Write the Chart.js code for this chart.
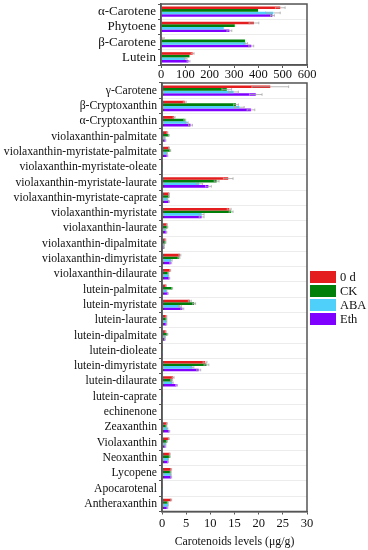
<!DOCTYPE html>
<html lang="en">
<head>
<meta charset="UTF-8">
<title>Carotenoids levels</title>
<script src="https://cdn.jsdelivr.net/npm/chart.js"></script>
<style>
  body { margin: 0; background: #fff; font-family: "Liberation Serif", "Times New Roman", serif; }
  #wrap { position: relative; width: 368px; height: 550px; overflow: hidden; }
  #topChart { position: absolute; left: 0; top: 0; }
  #mainChart { position: absolute; left: 0; top: 78px; }
  #legend { position: absolute; left: 310px; top: 270px; }
  .item { height: 14px; display: flex; align-items: center; font-size: 12.5px; color: #111; }
  .sw { width: 26px; height: 12px; margin-right: 4px; }
</style>
</head>
<body>
<div id="wrap">
  <canvas id="topChart" width="368" height="82"></canvas>
  <canvas id="mainChart" width="368" height="472"></canvas>
  <div id="legend"></div>
</div>
<script>
// series names and colours
const seriesNames = ['0 d', 'CK', 'ABA', 'Eth'];
const seriesColors = ['#e41e1e', '#00800a', '#4fd0fb', '#8000ff'];

// upper panel (large values)
const topLabels = ['α-Carotene', 'Phytoene', 'β-Carotene', 'Lutein'];
const top0d  = [490, 382, 5, 130];
const topCK  = [399, 303, 345, 117];
const topABA = [460, 258, 348, 101];
const topEth = [458, 281, 371, 113];
const topErr0d  = [20, 20, 8, 6];
const topErrCK  = [0, 0, 0, 0];
const topErrABA = [30, 0, 8, 6];
const topErrEth = [8, 10, 10, 6];

// lower panel
const labels = [
  'γ-Carotene', 'β-Cryptoxanthin', 'α-Cryptoxanthin', 'violaxanthin-palmitate',
  'violaxanthin-myristate-palmitate', 'violaxanthin-myristate-oleate',
  'violaxanthin-myristate-laurate', 'violaxanthin-myristate-caprate',
  'violaxanthin-myristate', 'violaxanthin-laurate', 'violaxanthin-dipalmitate',
  'violaxanthin-dimyristate', 'violaxanthin-dilaurate', 'lutein-palmitate',
  'lutein-myristate', 'lutein-laurate', 'lutein-dipalmitate', 'lutein-dioleate',
  'lutein-dimyristate', 'lutein-dilaurate', 'lutein-caprate', 'echinenone',
  'Zeaxanthin', 'Violaxanthin', 'Neoxanthin', 'Lycopene', 'Apocarotenal', 'Antheraxanthin'
];
const val0d  = [22.4, 4.7, 2.5, 1.1, 1.45, 0.05, 13.7, 1.45, 13.9, 1.0, 0.7, 3.7, 1.7, 0.8, 5.75, 0.9, 0.75, 0.05, 8.9, 2.3, 0.05, 0.1, 1.0, 1.4, 1.6, 1.9, 0.15, 1.9];
const valCK  = [13.4, 15.3, 4.7, 1.4, 1.7, 0.05, 11.3, 1.45, 14.3, 1.1, 0.7, 3.5, 1.3, 2.1, 6.65, 0.9, 1.1, 0.05, 9.2, 2.0, 0.05, 0.1, 0.9, 1.0, 1.6, 1.8, 0.15, 1.2];
const valABA = [14.8, 16.0, 5.1, 0.55, 1.0, 0.05, 7.7, 1.1, 8.2, 0.7, 0.4, 1.9, 1.3, 0.9, 3.7, 0.9, 0.6, 0.05, 6.3, 2.1, 0.05, 0.1, 1.1, 0.7, 1.25, 1.8, 0.15, 1.2];
const valEth = [19.4, 18.4, 5.9, 0.7, 1.1, 0.05, 9.6, 1.45, 8.2, 0.9, 0.4, 1.8, 1.5, 1.2, 4.2, 0.9, 0.6, 0.05, 7.6, 3.0, 0.05, 0.1, 1.5, 0.7, 1.25, 1.9, 0.15, 1.1];
const err0d  = [3.8, 0.3, 0.2, 0.1, 0.1, 0, 1.0, 0.1, 0.4, 0.1, 0.1, 0.2, 0.1, 0.1, 0.3, 0.1, 0.1, 0, 0.4, 0.2, 0, 0, 0.1, 0.1, 0.1, 0.1, 0, 0.1];
const errCK  = [1.0, 0.5, 0.2, 0.1, 0.1, 0, 0.5, 0.1, 0.4, 0.1, 0.1, 0.2, 0.1, 0.1, 0.3, 0.1, 0.1, 0, 0.5, 0.2, 0, 0, 0.1, 0.1, 0.1, 0.1, 0, 0.1];
const errABA = [1.0, 1.0, 0.3, 0.1, 0.1, 0, 0.7, 0.1, 0.5, 0.1, 0.1, 0.2, 0.1, 0.1, 0.3, 0.1, 0.1, 0, 0.3, 0.2, 0, 0, 0.1, 0.1, 0.1, 0.1, 0, 0.1];
const errEth = [1.3, 0.8, 0.4, 0.1, 0.1, 0, 0.6, 0.1, 0.5, 0.1, 0.1, 0.2, 0.1, 0.1, 0.3, 0.1, 0.1, 0, 0.4, 0.2, 0, 0, 0.1, 0.1, 0.1, 0.1, 0, 0.1];

const topTicks = [0, 100, 200, 300, 400, 500, 600];
const mainTicks = [0, 5, 10, 15, 20, 25, 30];

Chart.defaults.font.family = '"Liberation Serif", "Times New Roman", serif';
Chart.defaults.color = '#111';

// grey error bars with caps
const errorBars = {
  id: 'errorBars',
  afterDatasetsDraw(chart) {
    const ctx = chart.ctx, xs = chart.scales.x;
    ctx.save();
    ctx.strokeStyle = '#a8a8a8';
    ctx.lineWidth = 0.8;
    chart.data.datasets.forEach((ds, i) => {
      const meta = chart.getDatasetMeta(i);
      meta.data.forEach((bar, j) => {
        const e = ds.errors[j];
        if (!e) return;
        const v = ds.data[j];
        const x1 = xs.getPixelForValue(v - e), x2 = xs.getPixelForValue(v + e);
        const h = bar.height / 2;
        ctx.beginPath();
        ctx.moveTo(x1, bar.y); ctx.lineTo(x2, bar.y);
        ctx.moveTo(x1, bar.y - h); ctx.lineTo(x1, bar.y + h);
        ctx.moveTo(x2, bar.y - h); ctx.lineTo(x2, bar.y + h);
        ctx.stroke();
      });
    });
    ctx.restore();
  }
};

// box around the plot area
const frame = {
  id: 'frame',
  afterDraw(chart) {
    const a = chart.chartArea, ctx = chart.ctx;
    ctx.save();
    ctx.strokeStyle = '#555';
    ctx.lineWidth = 1.5;
    ctx.strokeRect(a.left, a.top, a.right - a.left, a.bottom - a.top);
    ctx.restore();
  }
};

function makeSets(arrs, errs) {
  return arrs.map((d, i) => ({
    label: seriesNames[i],
    data: d,
    errors: errs[i],
    backgroundColor: seriesColors[i],
    borderWidth: 0,
    barPercentage: 1,
    categoryPercentage: 0.68
  }));
}

function makeOptions(tickVals, max, yFont, yWidth, xHeight, xTitle, padTop, xPad) {
  return {
    indexAxis: 'y',
    responsive: false,
    animation: false,
    layout: { padding: { top: padTop, right: 61, left: 0, bottom: 0 } },
    plugins: { legend: { display: false }, tooltip: { enabled: false } },
    scales: {
      x: {
        min: 0, max: max,
        afterBuildTicks: s => { s.ticks = tickVals.map(v => ({ value: v })); },
        afterFit: s => { s.height = xHeight; s.paddingLeft = 0; s.paddingRight = 0; },
        ticks: { font: { size: 12.5 }, padding: xPad, color: '#111', maxRotation: 0, minRotation: 0, autoSkip: false },
        grid: { drawOnChartArea: false, tickLength: 3, tickColor: '#555' },
        border: { color: '#555', width: 1.5 },
        title: xTitle ? { display: true, text: xTitle, font: { size: 11.8 }, padding: { top: 0, bottom: 1 }, color: '#111' } : { display: false }
      },
      y: {
        afterFit: s => { s.width = yWidth; s.paddingTop = 0; s.paddingBottom = 0; },
        ticks: { font: { size: yFont }, padding: 2, color: '#111', autoSkip: false },
        grid: { color: '#ececec', tickLength: 3, tickColor: '#555' },
        border: { color: '#555', width: 1.5 }
      }
    }
  };
}

new Chart(document.getElementById('topChart'), {
  type: 'bar',
  data: { labels: topLabels, datasets: makeSets([top0d, topCK, topABA, topEth], [topErr0d, topErrCK, topErrABA, topErrEth]) },
  options: makeOptions(topTicks, 600, 13, 161, 17, null, 4, -1),
  plugins: [errorBars, frame]
});

new Chart(document.getElementById('mainChart'), {
  type: 'bar',
  data: { labels: labels, datasets: makeSets([val0d, valCK, valABA, valEth], [err0d, errCK, errABA, errEth]) },
  options: makeOptions(mainTicks, 30, 11.7, 162, 38.5, 'Carotenoids levels (μg/g)', 5, 2),
  plugins: [errorBars, frame]
});

// legend
const lg = document.getElementById('legend');
seriesNames.forEach((n, i) => {
  const d = document.createElement('div');
  d.className = 'item';
  d.innerHTML = '<span class="sw" style="background:' + seriesColors[i] + '"></span>' + n;
  lg.appendChild(d);
});
</script>
</body>
</html>
